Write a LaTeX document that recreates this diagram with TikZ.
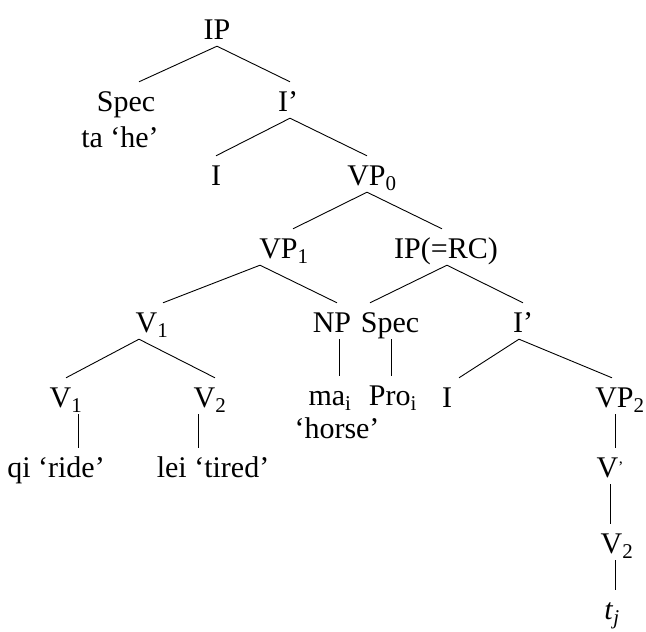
\documentclass[tikz,border=0pt]{standalone}
\usepackage{fontspec}
\setmainfont{Liberation Serif}
\usepackage{tikz}
\usetikzlibrary{positioning}

\tikzset{
  lbl/.style={anchor=base, inner sep=0pt, text height=29pt, text depth=7pt},
  gloss/.style={anchor=base, inner sep=0pt},
  branch/.style={line width=0.9pt}
}
\newcommand{\sub}[1]{\textsubscript{#1}}

\begin{document}
\begin{tikzpicture}[x=1pt, y=-1pt, font=\fontsize{30}{34}\selectfont]
  \useasboundingbox (0,0) rectangle (646,632);

  % Labels, row by row (coordinates are baselines)
  \node[lbl] (ip)    at (217, 39)  {IP};
  \node[lbl] (spec)  at (126, 111) {Spec};
  \node[gloss] (tahe) at (120, 147) {ta ‘he’};
  \node[lbl] (ibar)  at (288, 111) {I’};
  \node[lbl] (infl)  at (216, 185) {I};
  \node[lbl] (vpz)   at (372, 185) {VP\sub{0}};
  \node[lbl] (vpa)   at (284, 258) {VP\sub{1}};
  \node[lbl] (iprc)  at (446, 258) {IP(=RC)};
  \node[lbl] (va)    at (152, 332) {V\sub{1}};
  \node[lbl] (np)    at (332, 332) {NP};
  \node[lbl] (specb) at (390, 332) {Spec};
  \node[lbl] (ibarb) at (523, 332) {I’};
  \node[lbl] (vaa)   at (66, 407)  {V\sub{1}};
  \node[lbl] (vab)   at (210, 407) {V\sub{2}};
  \node[lbl] (ma)    at (330, 405) {ma\sub{i}};
  \node[gloss] (horse) at (337, 438) {‘horse’};
  \node[lbl] (pro)   at (393, 405) {Pro\sub{i}};
  \node[lbl] (inflb) at (447, 407) {I};
  \node[lbl] (vpb)   at (620, 407) {VP\sub{2}};
  \node[lbl] (qi)    at (56, 477)  {qi ‘ride’};
  \node[lbl] (lei)   at (213, 477) {lei ‘tired’};
  \node[lbl] (vbar)  at (610, 477) {V\raisebox{0.3ex}{\fontsize{16}{16}\selectfont ’}};
  \node[lbl] (vb)    at (617, 553) {V\sub{2}};
  \node[lbl] (tr)    at (612, 619) {\textit{t}\sub{\textit{j}}};

  % Branches
  \draw[branch] (ip.south) -- ([xshift=13]spec.north);
  \draw[branch] (ip.south) -- ([xshift=2]ibar.north);
  \draw[branch] ([xshift=2]ibar.south) -- (infl.north);
  \draw[branch] ([xshift=2]ibar.south) -- ([xshift=-5]vpz.north);
  \draw[branch] ([xshift=-5]vpz.south) -- ([xshift=9]vpa.north);
  \draw[branch] ([xshift=-5]vpz.south) -- ([xshift=-4]iprc.north);
  \draw[branch] ([xshift=-24]vpa.south) -- ([xshift=11]va.north);
  \draw[branch] ([xshift=-24]vpa.south) -- ([xshift=5]np.north);
  \draw[branch] ([xshift=1]iprc.south) -- ([xshift=-20]specb.north);
  \draw[branch] ([xshift=1]iprc.south) -- (ibarb.north);
  \draw[branch] ([xshift=-13]va.south) -- (vaa.north);
  \draw[branch] ([xshift=-13]va.south) -- ([xshift=5]vab.north);
  \draw[branch] ([xshift=7]np.south) -- ([xshift=9]ma.north);
  \draw[branch] ([xshift=1]specb.south) -- ([xshift=-2]pro.north);
  \draw[branch] ([xshift=-4]ibarb.south) -- ([xshift=12]inflb.north);
  \draw[branch] ([xshift=-4]ibarb.south) -- ([xshift=-8]vpb.north);
  \draw[branch] ([xshift=12]vaa.south) -- ([xshift=22]qi.north);
  \draw[branch] ([xshift=-12]vab.south) -- ([xshift=-15]lei.north);
  \draw[branch] ([xshift=-5]vpb.south) -- ([xshift=5]vbar.north);
  \draw[branch] (vbar.south) -- ([xshift=-7]vb.north);
  \draw[branch] ([xshift=-2]vb.south) -- ([xshift=3]tr.north);
\end{tikzpicture}
\end{document}
